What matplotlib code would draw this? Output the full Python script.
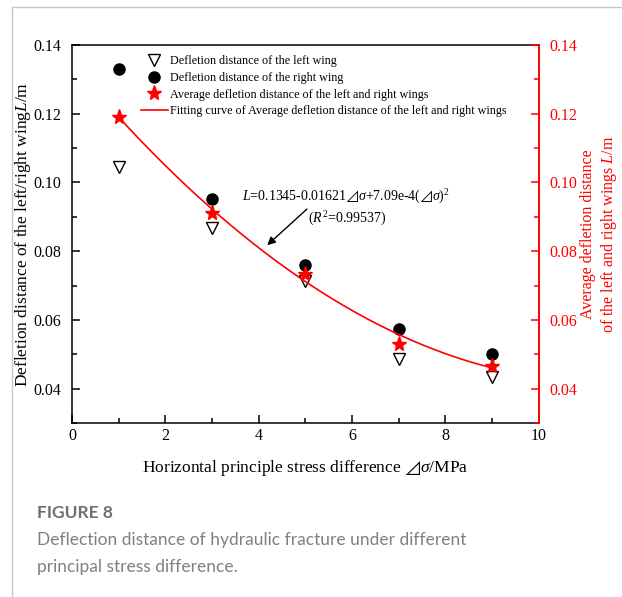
import matplotlib
matplotlib.use("Agg")
import matplotlib.pyplot as plt
from matplotlib.ticker import MultipleLocator
from matplotlib.lines import Line2D
import numpy as np

plt.rcParams['font.family'] = ['Liberation Serif', 'DejaVu Serif']
plt.rcParams['mathtext.fontset'] = 'custom'
plt.rcParams['mathtext.rm'] = 'Liberation Serif'
plt.rcParams['mathtext.it'] = 'Liberation Serif:italic'
plt.rcParams['mathtext.fallback'] = 'stix'

# horizontal principal stress difference (MPa)
stress_diff = [1, 3, 5, 7, 9]
# deflection distances (m)
left_wing = [0.1046, 0.0868, 0.0713, 0.0485, 0.0433]
right_wing = [0.1330, 0.0953, 0.0760, 0.0573, 0.0500]
avg_wing = [0.1190, 0.0912, 0.0735, 0.0530, 0.0467]

# quadratic fit of the average: L = c0 + c1*x + c2*x^2
fit_c0, fit_c1, fit_c2 = 0.1345, -0.01621, 7.09e-4

RED = '#ff0000'

fig = plt.figure(figsize=(6.22, 5.97), dpi=100)
ax = fig.add_axes([0.1158, 0.2915, 0.750, 0.6331])

ax.plot(stress_diff, left_wing, 'v', ms=8, mfc='white', mec='black', mew=1.0, ls='none')
ax.plot(stress_diff, right_wing, 'o', ms=8, color='black', ls='none')
xf = np.linspace(stress_diff[0], stress_diff[-1], 200)
ax.plot(xf, fit_c0 + fit_c1 * xf + fit_c2 * xf ** 2, color=RED, lw=1.2)
ax.plot(stress_diff, avg_wing, '*', ms=11, color=RED, ls='none')

ax.set_xlim(0, 10)
ax.set_ylim(0.03, 0.14)
ax.xaxis.set_major_locator(MultipleLocator(2))
ax.xaxis.set_minor_locator(MultipleLocator(1))
ax.set_yticks([0.04, 0.06, 0.08, 0.10, 0.12, 0.14])
ax.yaxis.set_minor_locator(MultipleLocator(0.01))
ax.yaxis.set_major_formatter(plt.FormatStrFormatter('%.2f'))
ax.tick_params(which='both', direction='in', right=False, top=False, labelsize=11.5, width=1.1)
ax.tick_params(which='major', length=6)
ax.tick_params(which='minor', length=3.5)
ax.tick_params(axis='y', pad=8)
for side in ['left', 'bottom', 'top']:
    ax.spines[side].set_linewidth(1.1)
ax.spines['right'].set_visible(False)

ax.set_xlabel('Horizontal principle stress difference $⊿σ$/MPa', fontsize=12.5, labelpad=10)
ax.set_ylabel('Defletion distance of the left/right wing$L$/m', fontsize=12.5, labelpad=0)
ax.yaxis.set_label_coords(-0.083, 0.5)

# red axis on the right for the average distance
ax2 = ax.twinx()
ax2.set_ylim(ax.get_ylim())
ax2.set_yticks([0.04, 0.06, 0.08, 0.10, 0.12, 0.14])
ax2.yaxis.set_minor_locator(MultipleLocator(0.01))
ax2.yaxis.set_major_formatter(plt.FormatStrFormatter('%.2f'))
ax2.tick_params(which='both', direction='in', colors=RED, labelsize=11.5, width=1.1, pad=8)
ax2.tick_params(which='major', length=6)
ax2.tick_params(which='minor', length=3.5)
for side in ['left', 'bottom', 'top']:
    ax2.spines[side].set_visible(False)
ax2.spines['right'].set_color(RED)
ax2.spines['right'].set_linewidth(1.4)
ax2.set_ylabel('Average defletion distance\nof the left and right wings $L$/m',
               color=RED, fontsize=11.5, linespacing=1.25)
ax2.yaxis.set_label_coords(1.088, 0.5)

handles = [
    Line2D([], [], marker='v', ms=8, mfc='white', mec='black', ls='none'),
    Line2D([], [], marker='o', ms=8, color='black', ls='none'),
    Line2D([], [], marker='*', ms=11, color=RED, ls='none'),
    Line2D([], [], color=RED, lw=1.2),
]
labels = [
    'Defletion distance of the left wing',
    'Defletion distance of the right wing',
    'Average defletion distance of the left and right wings',
    'Fitting curve of Average defletion distance of the left and right wings',
]
ax.legend(handles, labels, loc='upper left', bbox_to_anchor=(0.13, 0.995), frameon=False,
          fontsize=8.7, handlelength=2.2, handletextpad=0.2, labelspacing=0.38, borderpad=0.2)

ax.annotate('', xy=(4.14, 0.0812), xytext=(5.08, 0.0928),
            arrowprops=dict(arrowstyle='-|>', color='black', lw=1.0, mutation_scale=12))
ax.text(3.64, 0.0957, '$L$=0.1345-0.01621$⊿σ$+7.09e-4($⊿σ$)$^2$', fontsize=10, va='center')
ax.text(5.06, 0.0893, '($R^2$=0.99537)', fontsize=10, va='center')

# page frame and caption
fig.add_artist(Line2D([12 / 622, 12 / 622], [0, 1 - 7 / 597], color='#c8c8c8', lw=1.0))
fig.add_artist(Line2D([12 / 622, 1], [1 - 7 / 597, 1 - 7 / 597], color='#c8c8c8', lw=1.0))
fig.text(37 / 622, 1 - 513 / 597, 'FIGURE 8', fontsize=12.5, color='#707070',
         family='Lato', weight='bold', va='center')
fig.text(37 / 622, 1 - 540 / 597, 'Deflection distance of hydraulic fracture under different',
         fontsize=12.5, color='#808080', family='Lato', va='center')
fig.text(37 / 622, 1 - 567 / 597, 'principal stress difference.',
         fontsize=12.5, color='#808080', family='Lato', va='center')

fig.savefig('out.png', dpi=100)
